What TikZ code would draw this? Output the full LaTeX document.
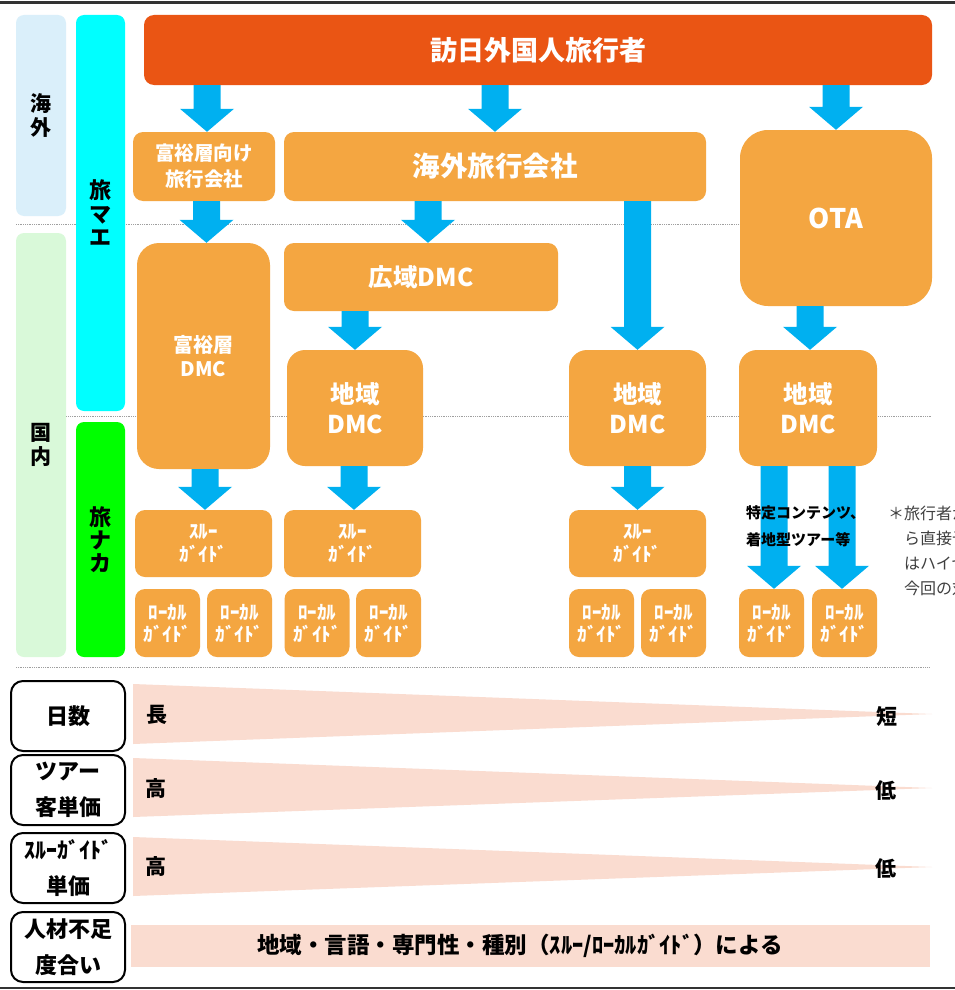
\documentclass[tikz,border=0pt]{standalone}
\usepackage{fontspec}
\setmainfont{Noto Sans CJK JP}
\usetikzlibrary{calc}
\definecolor{orng}{HTML}{F4A641}
\definecolor{ored}{HTML}{EA5514}
\definecolor{ablue}{HTML}{00B0F0}
\definecolor{lblue}{HTML}{DAEFFA}
\definecolor{lgreen}{HTML}{D9F9D9}
\definecolor{cyanb}{HTML}{00FFFF}
\definecolor{greenb}{HTML}{00FF00}
\definecolor{peach}{HTML}{FADCD0}
\definecolor{notegray}{HTML}{404040}
\definecolor{framegray}{HTML}{333333}
\newcommand\fsz[2]{\fontsize{#1}{#2}\selectfont}
\newcommand\barr[2]{\fill[ablue] let \p1=(#1), \p2=(#2) in
  (\x1-13.5pt,\y1) -- (\x1+13.5pt,\y1) -- (\x1+13.5pt,\y2+23pt) -- (\x1+27pt,\y2+23pt)
  -- (\x1,\y2) -- (\x1-27pt,\y2+23pt) -- (\x1-13.5pt,\y2+23pt) -- cycle;}
\begin{document}
\begin{tikzpicture}[x=1pt,y=-1pt,
  obox/.style={fill=orng, text=white, align=center, inner sep=0pt, rounded corners=10pt},
  sidebar/.style={rounded corners=8pt, align=center, inner sep=0pt, text=black, font=\bfseries\fsz{21}{23.5}},
  thrubox/.style={obox, minimum width=137pt, minimum height=67pt, font=\bfseries\fsz{19}{23}},
  localbox/.style={obox, minimum width=65pt, minimum height=68pt, font=\bfseries\fsz{19}{22}},
  dmcbox/.style={obox, rounded corners=18pt, minimum height=116pt, font=\bfseries\fsz{24.5}{30}},
  labbox/.style={draw=black, line width=2pt, rounded corners=12pt, fill=white, align=center, inner sep=0pt,
    minimum width=114pt, minimum height=70pt, font=\bfseries\fsz{22}{36}},
  wlab/.style={font=\bfseries\fsz{21}{25}, inner sep=0pt},
  sepline/.style={densely dotted, gray!75, line width=0.8pt}]
\clip (0,0) rectangle (955,990);
\fill[white] (0,0) rectangle (955,990);
% frame lines
\draw[framegray, line width=2.5pt] (0,2.5) -- (955,2.5);
\draw[framegray, line width=2.5pt] (0,988) -- (955,988);
% dotted separators
\draw[sepline] (16,224) -- (932,224);
\draw[sepline] (16,416) -- (932,416);
\draw[sepline] (16,667) -- (930,667);
% side bars
\node[sidebar, fill=lblue, minimum width=50pt, minimum height=201pt] (kaigaiL) at (41,115.5) {海\\外};
\node[sidebar, fill=lgreen, minimum width=50pt, minimum height=424pt] (kokunaiL) at (41,445) {国\\内};
\node[sidebar, fill=cyanb, minimum width=49pt, minimum height=396pt, font=\bfseries\fsz{22}{23.5}] (tabimae) at (100.5,213) {旅\\マ\\エ};
\node[sidebar, fill=greenb, minimum width=49pt, minimum height=235pt, font=\bfseries\fsz{22}{23}] (tabinaka) at (100.5,539.5) {旅\\ナ\\カ};
% main boxes
\node[obox, fill=ored, minimum width=788pt, minimum height=70pt, font=\bfseries\fsz{27}{31}] (top) at (538,50) {訪日外国人旅行者};
\node[obox, minimum width=142pt, minimum height=69pt, font=\bfseries\fsz{19.5}{26}] (fuyuT) at (204,166.5) {富裕層向け\\旅行会社};
\node[obox, minimum width=422pt, minimum height=69pt, font=\bfseries\fsz{27.5}{31}] (kaigai) at (495,166.5) {海外旅行会社};
\node[obox, rounded corners=28pt, minimum width=192pt, minimum height=176pt, font=\bfseries\fsz{27}{31}] (ota) at (836,218) {OTA};
\node[obox, rounded corners=22pt, minimum width=133pt, minimum height=226pt, font=\bfseries\fsz{20}{24}] (fuyuD) at (203.5,356) {富裕層\\DMC};
\node[obox, minimum width=274pt, minimum height=68pt, font=\bfseries\fsz{24.5}{30}] (kouiki) at (421,277) {広域DMC};
\node[dmcbox, minimum width=136pt] (chiiki2) at (355,408) {地域\\DMC};
\node[dmcbox, minimum width=137pt] (chiiki3) at (637.5,408) {地域\\DMC};
\node[dmcbox, minimum width=138pt] (chiiki4) at (808,408) {地域\\DMC};
\node[thrubox] (thru1) at (203.5,543.5) {ｽﾙｰ\\ｶﾞｲﾄﾞ};
\node[thrubox] (thru2) at (352.5,543.5) {ｽﾙｰ\\ｶﾞｲﾄﾞ};
\node[thrubox] (thru3) at (637.5,543.5) {ｽﾙｰ\\ｶﾞｲﾄﾞ};
\node[localbox] (loc1) at (167.5,623) {ﾛｰｶﾙ\\ｶﾞｲﾄﾞ};
\node[localbox] (loc2) at (239.5,623) {ﾛｰｶﾙ\\ｶﾞｲﾄﾞ};
\node[localbox] (loc3) at (317,623) {ﾛｰｶﾙ\\ｶﾞｲﾄﾞ};
\node[localbox] (loc4) at (388.5,623) {ﾛｰｶﾙ\\ｶﾞｲﾄﾞ};
\node[localbox] (loc5) at (601.5,623) {ﾛｰｶﾙ\\ｶﾞｲﾄﾞ};
\node[localbox] (loc6) at (673.5,623) {ﾛｰｶﾙ\\ｶﾞｲﾄﾞ};
\node[localbox] (loc7) at (771.5,623) {ﾛｰｶﾙ\\ｶﾞｲﾄﾞ};
\node[localbox] (loc8) at (844.5,623) {ﾛｰｶﾙ\\ｶﾞｲﾄﾞ};
% arrows
\coordinate (a1) at ($(fuyuT.north)+(3,0)$);
\coordinate (a2) at ($(fuyuD.north)+(3,0)$);
\coordinate (a3) at ($(kouiki.north)+(7,0)$);
\coordinate (a4) at ($(chiiki4.north)+(2,0)$);
\coordinate (a5) at ($(thru1.north)+(1.5,0)$);
\coordinate (a6) at ($(thru2.north)+(1.5,0)$);
\coordinate (a7) at ($(loc7.north)+(2.5,0)$);
\coordinate (a8) at ($(loc8.north)+(-2.5,0)$);
\barr{top.south -| a1}{a1}
\barr{top.south -| kaigai.north}{kaigai.north}
\barr{top.south -| ota.north}{ota.north}
\barr{fuyuT.south -| a2}{a2}
\barr{kaigai.south -| a3}{a3}
\barr{kaigai.south -| chiiki3.north}{chiiki3.north}
\barr{kouiki.south -| chiiki2.north}{chiiki2.north}
\barr{ota.south -| a4}{a4}
\barr{fuyuD.south -| a5}{a5}
\barr{chiiki2.south -| a6}{a6}
\barr{chiiki3.south -| thru3.north}{thru3.north}
\barr{chiiki4.south -| a7}{a7}
\barr{chiiki4.south -| a8}{a8}
% label over the OTA arrows
\node[anchor=west, align=left, inner sep=0pt, font=\bfseries\fsz{15}{27}] (tokutei) at (746,526.5) {特定コンテンツ、\\着地型ツアー等};
% note (cut off at right edge, as in the reference)
\node[anchor=west, align=left, inner sep=0pt, text=notegray, font=\fsz{16}{25}] (note) at (888,550.5) {＊旅行者か\\　ら直接予\\　はハイヤ\\　今回の対};
% bottom comparison rows
\node[labbox] (lab1) at (68,716) {日数};
\node[labbox] (lab2) at (68,790) {ツアー\\客単価};
\node[labbox] (lab3) at (68,868) {ｽﾙｰｶﾞｲﾄﾞ\\単価};
\node[labbox] (lab4) at (68,947) {人材不足\\度合い};
\fill[peach] (133,684) -- (133,744) -- (932,714) -- cycle;
\fill[peach] (133,758) -- (133,817) -- (932,788) -- cycle;
\fill[peach] (133,837) -- (133,896) -- (932,867) -- cycle;
\fill[peach] (131,925) rectangle (930,967);
\node[wlab] (long) at (157,715) {長};
\node[wlab] (short) at (887,717) {短};
\node[wlab] (high1) at (156,788) {高};
\node[wlab] (low1) at (886,791) {低};
\node[wlab] (high2) at (156,866) {高};
\node[wlab] (low2) at (886,869) {低};
\node[wlab, font=\bfseries\fsz{22.5}{26}] (reason) at (520,946) {地域・言語・専門性・種別（ｽﾙｰ/ﾛｰｶﾙｶﾞｲﾄﾞ）による};
\end{tikzpicture}
\end{document}
